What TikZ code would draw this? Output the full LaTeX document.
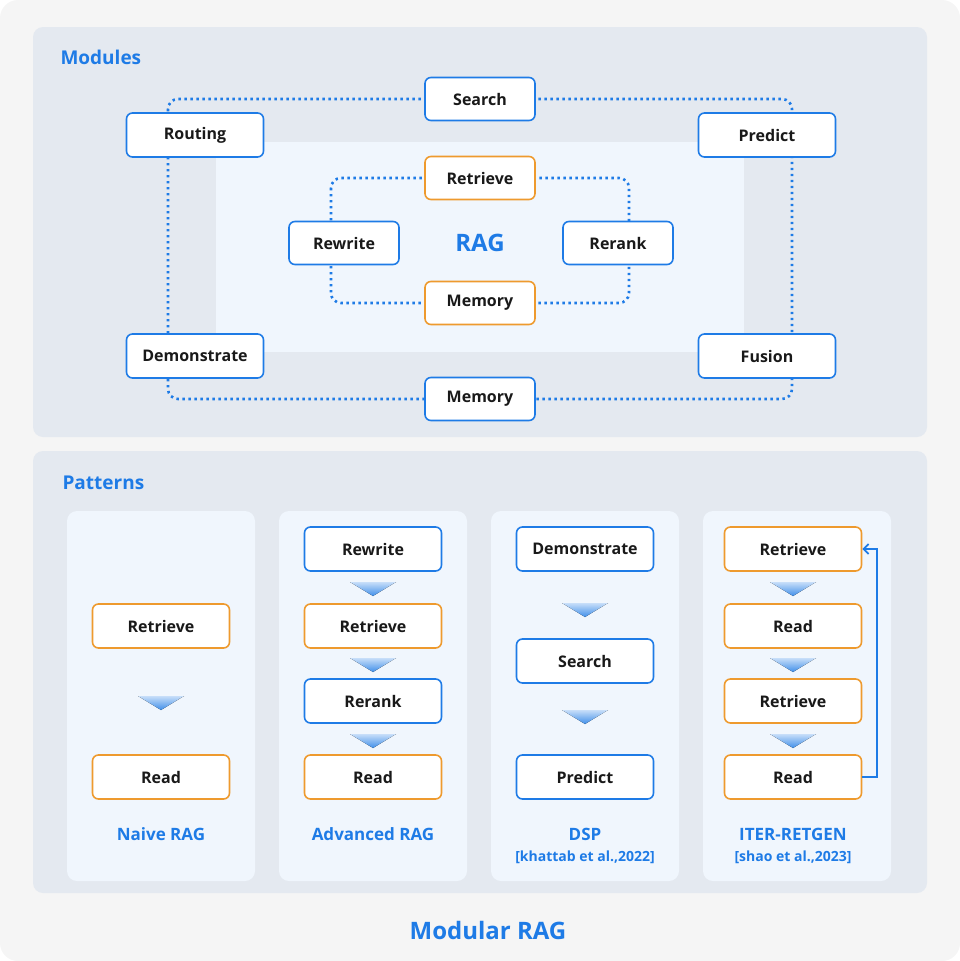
\documentclass[tikz,border=0pt]{standalone}
\usepackage{fontspec}
\setmainfont{Open Sans}
\usetikzlibrary{arrows.meta}
\definecolor{bl}{HTML}{1E7BE6}
\definecolor{org}{HTML}{EE9A2E}
\definecolor{pan}{HTML}{E4E9F0}
\definecolor{lt}{HTML}{F0F6FD}
\definecolor{bgc}{HTML}{F5F5F5}
\begin{document}
\begin{tikzpicture}[x=1pt,y=-1pt,
 box/.style={draw=bl,line width=1.6pt,fill=white,rounded corners=6pt,minimum width=137pt,minimum height=44pt,text=black!90,font=\fontsize{16}{20}\selectfont\bfseries},
 sbox/.style={box,minimum width=110pt,minimum height=43pt},
 ob/.style={draw=org},
 dots/.style={draw=bl,line width=2.6pt,dash pattern=on 2.4pt off 3.6pt,rounded corners=10pt},
 ttl/.style={text=bl,font=\fontsize{19}{22}\selectfont\bfseries,anchor=west},
 lab/.style={text=bl,font=\fontsize{17}{20}\selectfont\bfseries},
 tri/.style={top color=bl!25,bottom color=bl!85,draw=none}]
\useasboundingbox (0,0) rectangle (960,961);
\fill[bgc,rounded corners=18pt] (0,0) rectangle (960,961);
\fill[pan,rounded corners=10pt] (33,27) rectangle (927,437);
\fill[lt] (216,142) rectangle (744,352);
\node[ttl] (mt) at (57,57) {Modules};
\draw[dots] (168,99) rectangle (792,399);
\draw[dots] (331,178) rectangle (629,303);
\node[sbox] (search) at (480,99) {Search};
\node[sbox] (mem2) at (480,399) {Memory};
\node[box] (routing) at (195,135) {Routing};
\node[box] (predict) at (767,135) {Predict};
\node[box] (demo) at (195,356) {Demonstrate};
\node[box] (fusion) at (767,356) {Fusion};
\node[sbox,ob] (ret) at (480,178) {Retrieve};
\node[sbox,ob] (mem1) at (480,303) {Memory};
\node[sbox] (rew) at (344,243) {Rewrite};
\node[sbox] (rer) at (618,243) {Rerank};
\node[text=bl,font=\fontsize{24}{28}\selectfont\bfseries] (rag) at (480,243) {RAG};
\fill[pan,rounded corners=10pt] (33,451) rectangle (927,893);
\node[ttl] (pt) at (59,483) {Patterns};
\foreach \x in {67,279,491,703}{\fill[lt,rounded corners=10pt] (\x,511) rectangle ++(188,370);}
\newcommand\tria[2]{\fill[tri] (#1-23,#2-7) -- (#1+23,#2-7) -- (#1,#2+7) -- cycle;}
% Naive
\node[box,ob] (n1) at (161,626) {Retrieve};
\node[box,ob] (n2) at (161,777) {Read};
\tria{161}{703}
\node[lab] (nl) at (161,834) {Naive RAG};
% Advanced
\node[box] (a1) at (373,549) {Rewrite};
\node[box,ob] (a2) at (373,626) {Retrieve};
\node[box] (a3) at (373,701) {Rerank};
\node[box,ob] (a4) at (373,777) {Read};
\tria{373}{589}\tria{373}{665}\tria{373}{741}
\node[lab] (al) at (373,834) {Advanced RAG};
% DSP
\node[box] (d1) at (585,549) {Demonstrate};
\node[box] (d2) at (585,661) {Search};
\node[box] (d3) at (585,777) {Predict};
\tria{585}{610}\tria{585}{717}
\node[lab] (dl) at (585,834) {DSP};
\node[text=bl,font=\fontsize{14}{16}\selectfont\bfseries] (dc) at (585,857) {[khattab et al.,2022]};
% ITER
\node[box,ob] (i1) at (793,549) {Retrieve};
\node[box,ob] (i2) at (793,626) {Read};
\node[box,ob] (i3) at (793,701) {Retrieve};
\node[box,ob] (i4) at (793,777) {Read};
\tria{793}{589}\tria{793}{665}\tria{793}{741}
\node[lab] (il) at (793,834) {ITER-RETGEN};
\node[text=bl,font=\fontsize{14}{16}\selectfont\bfseries] (ic) at (793,857) {[shao et al.,2023]};
\draw[bl,line width=1.8pt,-{Straight Barb[length=5pt,width=10pt]}] (i4.east) -- ++(15,0) |- (i1.east);
\node[text=bl,font=\fontsize{24}{28}\selectfont\bfseries] (mr) at (488,930) {Modular RAG};
\end{tikzpicture}
\end{document}
